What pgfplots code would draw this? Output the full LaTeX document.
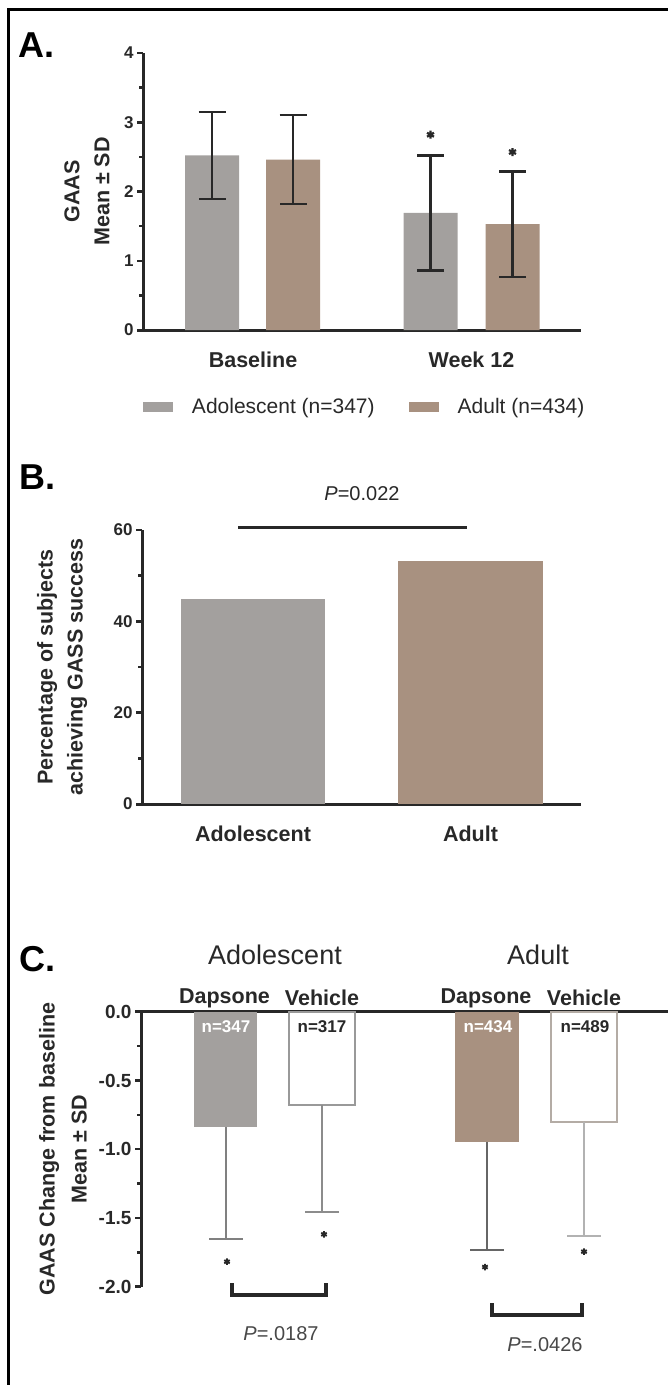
\documentclass[border=0pt]{standalone}
\usepackage{pgfplots}
\pgfplotsset{compat=1.18}
\usepackage{fontspec}
\setmainfont{Liberation Sans}
\definecolor{adol}{RGB}{163,160,158}
\definecolor{adul}{RGB}{168,145,128}
\definecolor{axc}{RGB}{40,40,40}
\newcommand{\fsz}[2]{\fontsize{#1}{#2}\selectfont}
\pgfplotsset{
  gp/.style={
    scale only axis, anchor=south west, clip=false,
    axis y line*=left,
    axis line style={line width=3pt, draw=axc},
    tick align=outside, major tick length=6pt, minor tick length=4pt,
    ytick style={line width=2.5pt, draw=axc},
    minor y tick num=1,
    xtick style={draw=none},
    /pgf/number format/assume math mode=true,
    yticklabel style={font=\bfseries\fsz{17}{20}, text=axc},
    xticklabel style={font=\bfseries\fsz{21.5}{26}, text=axc, anchor=base, yshift=-31pt},
  },
}
\begin{document}
\begin{tikzpicture}[x=1pt,y=1pt]
\useasboundingbox (0,0) rectangle (668,-1385);
\draw[line width=3.5pt, black] (8.5,-1385) -- (8.5,-9.3) -- (668,-9.3);
\node[anchor=base west, inner sep=0pt, font=\bfseries\fsz{36}{40}, text=black] at (18,-57) {A.};
\node[anchor=base west, inner sep=0pt, font=\bfseries\fsz{36}{40}, text=black] at (19,-489) {B.};
\node[anchor=base west, inner sep=0pt, font=\bfseries\fsz{36}{40}, text=black] at (19,-971) {C.};

% ---------------- Panel A ----------------
\begin{axis}[gp,
  at={(143pt,-330pt)}, width=438pt, height=277pt,
  xmin=143, xmax=581, ymin=0, ymax=4,
  axis x line*=bottom,
  x axis line style={shorten <=-6pt},
  ytick={0,1,2,3,4},
  xtick={253,471.5}, xticklabels={Baseline, Week 12},
  every axis y label/.style={at={(axis description cs:-0.1279,0.5)}, rotate=90, anchor=center},
  ylabel={GAAS\\Mean ± SD},
  ylabel style={align=center, font=\bfseries\fsz{21.5}{30}, text=axc},
  legend style={at={(axis description cs:0,0)}, anchor=west, yshift=-77pt,
    draw=none, fill=none, inner sep=0pt, outer sep=0pt,
    font=\fsz{21}{25}, text=axc, legend columns=2,
    nodes={inner sep=0pt},
    /tikz/every odd column/.style={column sep=19pt},
    /tikz/every even column/.style={column sep=34pt}},
]
\addplot[ybar, bar width=54, bar shift=0pt, fill=adol, draw=none,
  legend image code/.code={\fill[adol] (0pt,-5pt) rectangle (30pt,5pt);},
  error bars/.cd, y dir=both, y explicit,
  error bar style={line width=2.3pt, draw=axc},
  error mark options={rotate=90, mark size=13.5pt, line width=2.3pt, draw=axc}]
  coordinates {(212,2.52) +- (0,0.63) (430.5,1.69) +- (0,0.83)};
\addlegendentry{Adolescent (n=347)}
\addplot[ybar, bar width=54, bar shift=0pt, fill=adul, draw=none,
  legend image code/.code={\fill[adul] (0pt,-5pt) rectangle (30pt,5pt);},
  error bars/.cd, y dir=both, y explicit,
  error bar style={line width=2.3pt, draw=axc},
  error mark options={rotate=90, mark size=13.5pt, line width=2.3pt, draw=axc}]
  coordinates {(293,2.46) +- (0,0.64) (512.5,1.53) +- (0,0.76)};
\addlegendentry{Adult (n=434)}
\addplot[only marks, mark=asterisk, mark size=4pt, mark options={line width=2.2pt, draw=axc}, forget plot]
  coordinates {(430.5,2.82) (512.5,2.57)};
\end{axis}

% ---------------- Panel B ----------------
\begin{axis}[gp,
  at={(142pt,-804pt)}, width=439pt, height=274pt,
  xmin=142, xmax=581, ymin=0, ymax=60,
  axis x line*=bottom,
  x axis line style={shorten <=-6pt},
  ytick={0,20,40,60},
  xtick={253,470.5}, xticklabels={Adolescent, Adult},
  every axis y label/.style={at={(axis description cs:-0.1822,0.5)}, rotate=90, anchor=center},
  ylabel={Percentage of subjects\\achieving GASS success},
  ylabel style={align=center, font=\bfseries\fsz{21.5}{30}, text=axc},
]
\addplot[ybar, bar width=144, bar shift=0pt, fill=adol, draw=none] coordinates {(253,44.9)};
\addplot[ybar, bar width=145, bar shift=0pt, fill=adul, draw=none] coordinates {(470.5,53.3)};
\addplot[line width=3pt, draw=axc, mark=none] coordinates {(238,60.6) (467,60.6)};
\node[font=\fsz{20}{24}, text=axc] at (axis cs:362,67.9) {\textit{P}=0.022};
\end{axis}

% ---------------- Panel C ----------------
\begin{axis}[gp,
  at={(141pt,-1286.7pt)}, width=527pt, height=275pt,
  xmin=141, xmax=668, ymin=-2, ymax=0,
  axis x line*=top,
  x axis line style={shorten <=-6pt},
  xtick=\empty,
  ytick={-2,-1.5,-1,-0.5,0},
  yticklabel style={font=\bfseries\fsz{19}{22}, /pgf/number format/.cd, fixed, fixed zerofill, precision=1},
  every axis y label/.style={at={(axis description cs:-0.148,0.5)}, rotate=90, anchor=center},
  ylabel={GAAS Change from baseline\\Mean ± SD},
  ylabel style={align=center, font=\bfseries\fsz{21.5}{32}, text=axc},
]
\addplot[ybar, bar width=63, bar shift=0pt, fill=adol, draw=none,
  error bars/.cd, y dir=minus, y explicit,
  error bar style={line width=2pt, draw=black!50},
  error mark options={rotate=90, mark size=17pt, line width=2pt, draw=black!50}]
  coordinates {(225.5,-0.84) +- (0,0.81)};
\addplot[ybar, bar width=66, bar shift=0pt, fill=white, draw=black!40, line width=2pt,
  error bars/.cd, y dir=minus, y explicit,
  error bar style={line width=2pt, draw=black!45},
  error mark options={rotate=90, mark size=17pt, line width=2pt, draw=black!45}]
  coordinates {(322,-0.68) +- (0,0.78)};
\addplot[ybar, bar width=64, bar shift=0pt, fill=adul, draw=none,
  error bars/.cd, y dir=minus, y explicit,
  error bar style={line width=2pt, draw=black!60},
  error mark options={rotate=90, mark size=17pt, line width=2pt, draw=black!60}]
  coordinates {(486.5,-0.945) +- (0,0.79)};
\addplot[ybar, bar width=66, bar shift=0pt, fill=white, draw={rgb,255:red,180;green,172;blue,165}, line width=2pt,
  error bars/.cd, y dir=minus, y explicit,
  error bar style={line width=2pt, draw=black!30},
  error mark options={rotate=90, mark size=17pt, line width=2pt, draw=black!30}]
  coordinates {(583.5,-0.80) +- (0,0.83)};
\addplot[only marks, mark=asterisk, mark size=3.2pt, mark options={line width=1.9pt, draw=axc}]
  coordinates {(227,-1.818) (324,-1.619) (485,-1.857) (584,-1.745)};
\addplot[line width=4pt, draw=axc, mark=none] coordinates {(232,-1.975) (232,-2.06) (326,-2.06) (326,-1.975)};
\addplot[line width=4pt, draw=axc, mark=none] coordinates {(492,-2.12) (492,-2.206) (582,-2.206) (582,-2.12)};
\node[font=\fsz{20}{24}, text=axc!85] at (axis cs:281,-2.339) {\textit{P}=.0187};
\node[font=\fsz{20}{24}, text=axc!85] at (axis cs:545,-2.424) {\textit{P}=.0426};
\node[font=\bfseries\fsz{17}{20}, text=white] at (axis cs:226,-0.11) {n=347};
\node[font=\bfseries\fsz{17}{20}, text=axc] at (axis cs:322,-0.11) {n=317};
\node[font=\bfseries\fsz{17}{20}, text=white] at (axis cs:488,-0.11) {n=434};
\node[font=\bfseries\fsz{17}{20}, text=axc] at (axis cs:585,-0.11) {n=489};
\node[font=\bfseries\fsz{21.5}{26}, text=axc] at (axis cs:224.5,0.1) {Dapsone};
\node[font=\bfseries\fsz{21.5}{26}, text=axc] at (axis cs:322,0.1) {Vehicle};
\node[font=\bfseries\fsz{21.5}{26}, text=axc] at (axis cs:486,0.1) {Dapsone};
\node[font=\bfseries\fsz{21.5}{26}, text=axc] at (axis cs:584,0.1) {Vehicle};
\node[font=\fsz{27}{32}, text=axc] at (axis cs:275,0.412) {Adolescent};
\node[font=\fsz{27}{32}, text=axc] at (axis cs:538,0.412) {Adult};
\end{axis}
\end{tikzpicture}
\end{document}
